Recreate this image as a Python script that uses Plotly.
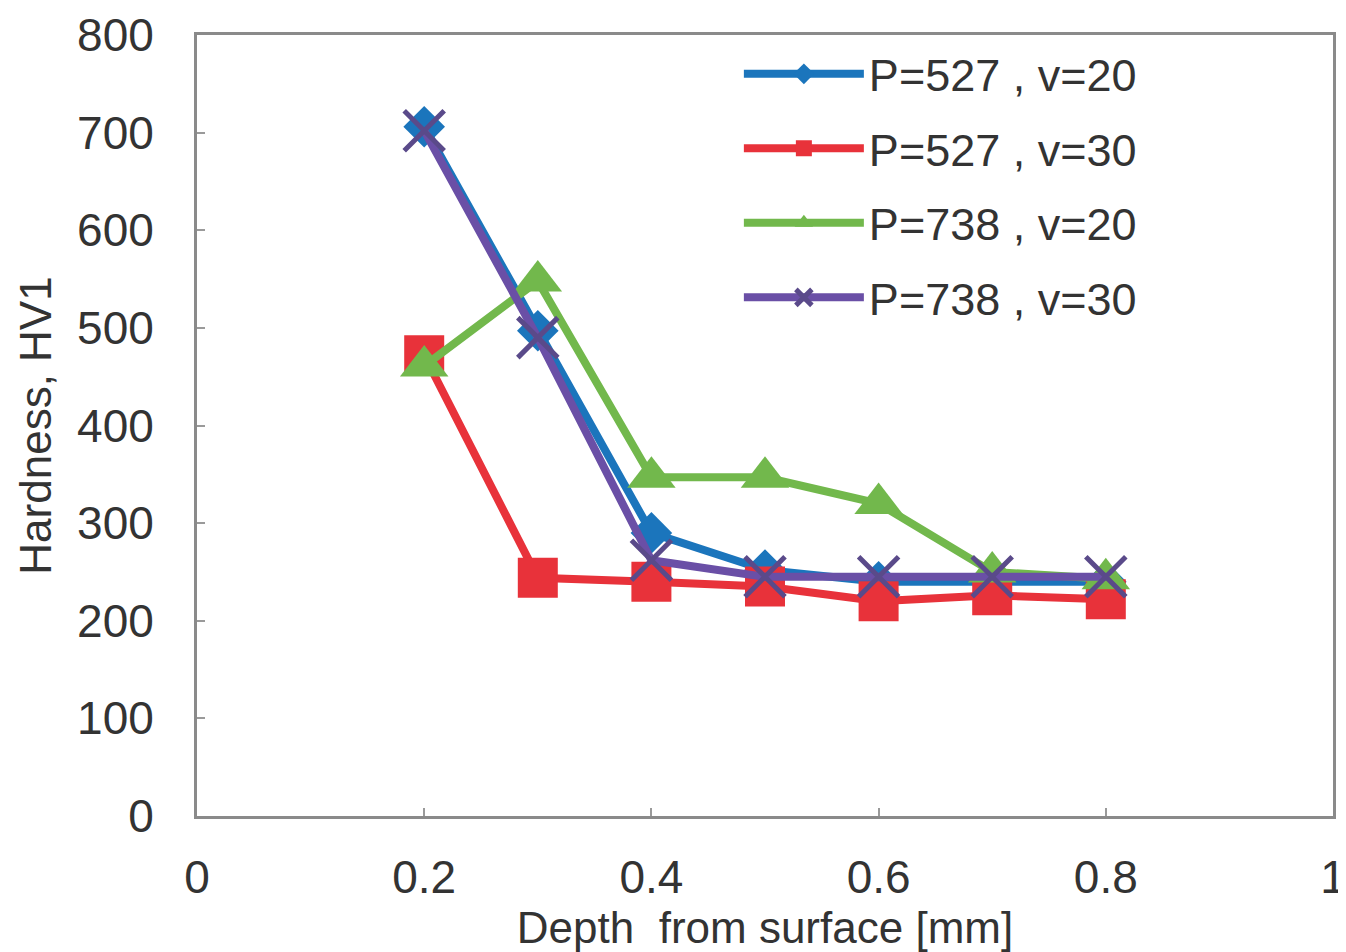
import plotly.graph_objects as go

depth = [0.2, 0.3, 0.4, 0.5, 0.6, 0.7, 0.8]
p527_v20 = [706, 497, 290, 252, 240, 240, 240]
p527_v30 = [472, 244, 240, 235, 220, 226, 222]
p738_v20 = [461, 548, 347, 347, 320, 250, 243]
p738_v30 = [702, 490, 262, 245, 245, 245, 245]

names = ["P=527 , v=20", "P=527 , v=30", "P=738 , v=20", "P=738 , v=30"]
colors = ["#1b75bc", "#e8323a", "#72b84c", "#6a4fa6"]

fig = go.Figure()
fig.add_trace(go.Scatter(x=depth, y=p527_v20, name=names[0], mode="lines+markers",
                         legendgroup="a",
                         line=dict(color=colors[0], width=8),
                         marker=dict(symbol="diamond", size=32, color=colors[0])))
fig.add_trace(go.Scatter(x=depth, y=p527_v30, name=names[1], mode="lines+markers",
                         legendgroup="b",
                         line=dict(color=colors[1], width=8),
                         marker=dict(symbol="square", size=40, color=colors[1])))
fig.add_trace(go.Scatter(x=depth, y=p738_v20, name=names[2], mode="lines+markers",
                         legendgroup="c",
                         line=dict(color=colors[2], width=8),
                         marker=dict(symbol="triangle-up", size=42, color=colors[2])))
fig.add_trace(go.Scatter(x=depth, y=p738_v30, name=names[3], mode="lines+markers",
                         legendgroup="d",
                         line=dict(color=colors[3], width=8),
                         marker=dict(symbol="x-thin", size=40, color=colors[3],
                                     line=dict(color="#5a4a8a", width=5))))

axis_common = dict(showline=True, linecolor="#8a8a8a", linewidth=3, mirror=True,
                   ticks="inside", ticklen=8, tickwidth=2, tickcolor="#9a9a9a",
                   showgrid=False, zeroline=False, ticklabeloverflow="allow",
                   automargin=False,
                   tickfont=dict(family="Liberation Sans, Arial", size=46, color="#333333"))

fig.update_layout(
    width=1338, height=944,
    margin=dict(l=189, r=13, t=27, b=136),
    plot_bgcolor="white", paper_bgcolor="white",
    font=dict(family="Liberation Sans, Arial", color="#333333"),
    xaxis=dict(range=[0, 1], tickvals=[0, 0.2, 0.4, 0.6, 0.8, 1],
               ticktext=["0", "0.2", "0.4", "0.6", "0.8", "1"],
               ticklabelstandoff=19,
               title=dict(text="Depth  from surface [mm]", font=dict(size=44), standoff=0),
               **axis_common),
    yaxis=dict(range=[0, 800], tickvals=list(range(0, 801, 100)),
               ticklabelstandoff=31,
               title=dict(text="Hardness, HV1", font=dict(size=44), standoff=12),
               **axis_common),
    legend=dict(x=0.477, y=0.996, xanchor="left", yanchor="top",
                font=dict(size=45, color="#333333"), bgcolor="rgba(0,0,0,0)",
                itemwidth=120, tracegroupgap=13),
)

fig.write_html("out.html")
